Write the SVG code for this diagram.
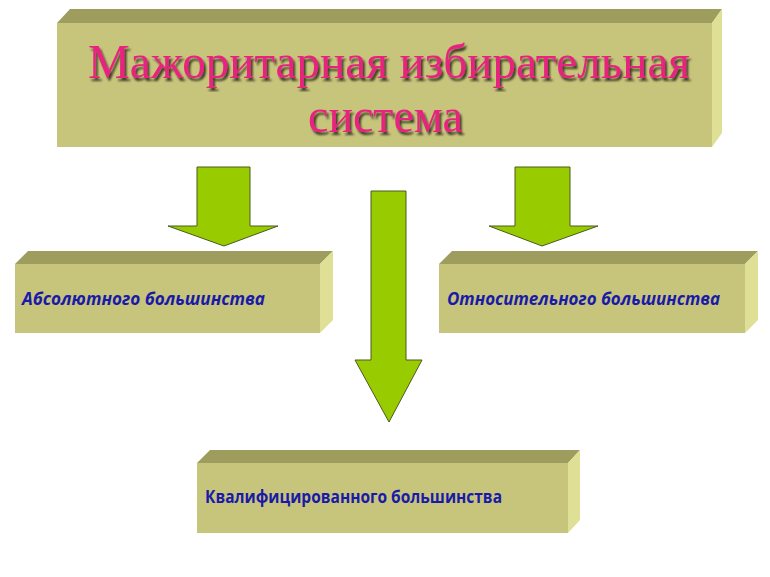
<svg xmlns="http://www.w3.org/2000/svg" width="770" height="577" viewBox="0 0 770 577">
<defs><filter id="sh" x="-5%" y="-5%" width="110%" height="110%"><feGaussianBlur in="SourceAlpha" stdDeviation="1"/><feOffset dx="2" dy="3"/><feComponentTransfer><feFuncA type="linear" slope="0.7"/></feComponentTransfer><feMerge><feMergeNode/><feMergeNode in="SourceGraphic"/></feMerge></filter></defs>
<style>
.fr{fill:#c7c57b}.tp{fill:#9f9d5e}.sd{fill:#e0df96}
.ar{fill:#99cc00;stroke:#4a5a20;stroke-width:1}
.t{font-family:"Liberation Serif",serif;font-size:49px;fill:#e8237f;filter:url(#sh)}
.l{font-family:"Open Sans","Liberation Sans",sans-serif;font-size:17px;font-weight:bold;fill:#1a1aa8}
</style>
<rect width="770" height="577" fill="#fff"/>
<g id="title">
<polygon class="tp" points="57,23 70,9 722,9 712,23"/>
<polygon class="sd" points="712,23 722,9 722,133 712,147"/>
<rect class="fr" x="57" y="23" width="655" height="124"/>
<text class="t" x="88" y="78" textLength="602" lengthAdjust="spacingAndGlyphs">Мажоритарная избирательная</text>
<text class="t" x="308" y="132" textLength="155" lengthAdjust="spacingAndGlyphs">система</text>
</g>
<g id="abs">
<polygon class="tp" points="15,264 28,251 333,251 320,264"/>
<polygon class="sd" points="320,264 333,251 333,320 320,333"/>
<rect class="fr" x="15" y="264" width="305" height="69"/>
<text class="l" x="22" y="305" font-style="italic" textLength="243" lengthAdjust="spacingAndGlyphs">Абсолютного большинства</text>
</g>
<g id="rel">
<polygon class="tp" points="439,264 452,251 758,251 745,264"/>
<polygon class="sd" points="745,264 758,251 758,320 745,333"/>
<rect class="fr" x="439" y="264" width="306" height="69"/>
<text class="l" x="447" y="305" font-style="italic" textLength="273" lengthAdjust="spacingAndGlyphs">Относительного большинства</text>
</g>
<g id="qual">
<polygon class="tp" points="197,463 210,450 580,450 568,463"/>
<polygon class="sd" points="568,463 580,450 580,520 568,533"/>
<rect class="fr" x="197" y="463" width="371" height="70"/>
<text class="l" x="205" y="503" font-size="16" textLength="297" lengthAdjust="spacingAndGlyphs">Квалифицированного большинства</text>
</g>
<g id="connectors">
<polygon class="ar" points="197,167 250,167 250,226 278,226 224,246 168,226 197,226"/>
<polygon class="ar" points="515,167 570,167 570,226 598,226 542,246 489,226 515,226"/>
<polygon class="ar" points="371,191 406,191 406,360 422,360 389,422 355,360 371,360"/>
</g>
</svg>
